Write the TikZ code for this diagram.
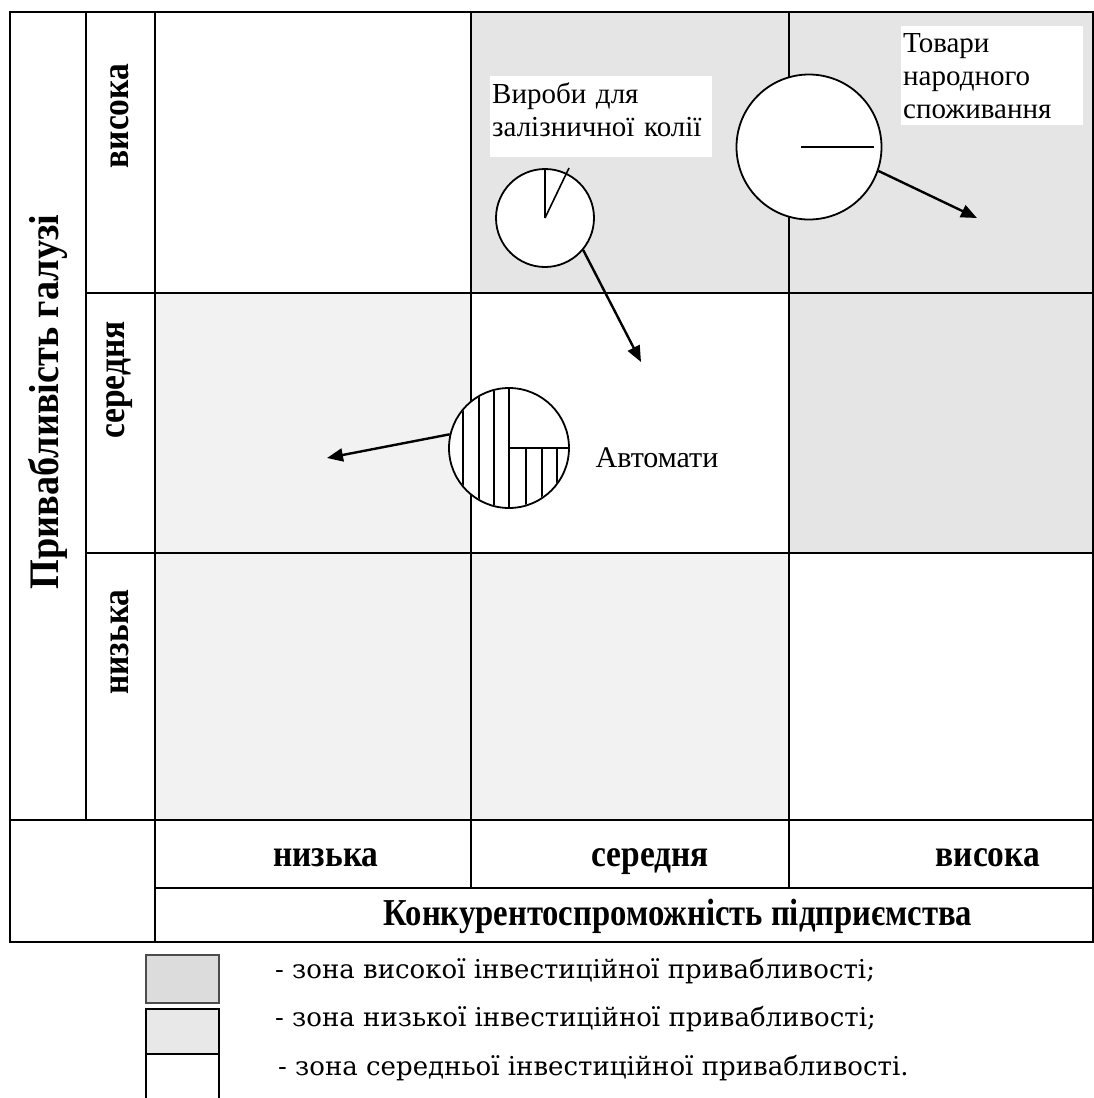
\documentclass[tikz,border=0pt]{standalone}
\usepackage{fontspec}
\setmainfont{Liberation Serif}
\newfontfamily\keyfont{DejaVu Serif}
\usetikzlibrary{arrows.meta,positioning}

\definecolor{hizone}{HTML}{E5E5E5}
\definecolor{lozone}{HTML}{F2F2F2}
\definecolor{hikey}{HTML}{DCDCDC}
\definecolor{lokey}{HTML}{E8E8E8}

\newcommand{\narrow}[1]{\scalebox{0.88}[1]{#1}}

\begin{document}
\begin{tikzpicture}[x=1pt, y=-1pt,
    frame/.style={line width=2pt, black},
    axlbl/.style={font=\fontsize{38}{44}\selectfont\bfseries, inner sep=0pt},
    rowlbl/.style={axlbl, rotate=90},
    pie/.style={circle, draw, line width=1.8pt, fill=white, inner sep=0pt, minimum size=#1},
    note/.style={fill=white, align=left, font=\fontsize{29}{33}\selectfont, inner xsep=2pt, inner ysep=7pt, anchor=north west, text width=#1},
    arr/.style={-{Triangle[length=16pt, width=13pt]}, line width=2.4pt},
    keybox/.style={draw, line width=1.6pt, minimum width=73pt, minimum height=#1, inner sep=0pt, anchor=north west},
    keytxt/.style={font=\keyfont\fontsize{26}{30}\selectfont, anchor=west, inner sep=0pt}
]
\useasboundingbox (0,0) rectangle (1094,1098);

% Zones
\fill[hizone] (471,12) rectangle (1093,293);
\fill[hizone] (789,293) rectangle (1093,553);
\fill[lozone] (155,293) rectangle (471,553);
\fill[lozone] (155,553) rectangle (789,820);

% Table lines
\draw[frame] (10,12) rectangle (1093,942);
\draw[frame] (86,12) -- (86,820);
\draw[frame] (155,12) -- (155,942);
\draw[frame] (471,12) -- (471,888);
\draw[frame] (789,12) -- (789,888);
\draw[frame] (86,293) -- (1093,293);
\draw[frame] (86,553) -- (1093,553);
\draw[frame] (10,820) -- (1093,820);
\draw[frame] (155,888) -- (1093,888);

% Axis labels
\node[rowlbl, font=\fontsize{42}{48}\selectfont\bfseries] (attr) at (48,402) {\scalebox{0.91}[1]{Привабливість галузі}};
\node[rowlbl] (rhi) at (120,116) {\narrow{висока}};
\node[rowlbl] (rmid) at (120,380) {\narrow{середня}};
\node[rowlbl] (rlo) at (120,642) {\narrow{низька}};
\node[axlbl, anchor=base] (clo) at (326,866) {\narrow{низька}};
\node[axlbl, anchor=base] (cmid) at (650,866) {\narrow{середня}};
\node[axlbl, anchor=base] (chi) at (988,866) {\narrow{висока}};
\node[axlbl, anchor=base] (comp) at (678,925) {\scalebox{0.86}[1]{Конкурентоспроможність підприємства}};

% Business units
\node[pie=98pt] (rail) at (545,218) {};
\draw[line width=1.6pt] (rail.center) -- (rail.north);
\draw[line width=1.6pt] (rail.center) -- (569,168);

\node[pie=145pt] (goods) at (809,147) {};
\draw[line width=1.6pt] (801,147) -- (874,147);

\node[pie=120pt] (auto) at (509,448) {};
\begin{scope}
  \clip (509,448) circle (59pt);
  \foreach \xx in {463,479,494}
    \draw[line width=1.6pt] (\xx,380) -- (\xx,520);
  \foreach \xx in {526,541.7,556.7}
    \draw[line width=1.6pt] (\xx,448) -- (\xx,520);
\end{scope}
\draw[line width=1.6pt] (auto.north) -- (auto.south);
\draw[line width=1.6pt] (auto.center) -- (auto.east);

% Unit names
\node[note=218pt] (railtxt) at (490,76) {Вироби для\\залізничної колії\\[-20pt]\mbox{}};
\node[note=178pt] (goodstxt) at (901,26) {Товари\\народного\\споживання};
\node[font=\fontsize{30}{33}\selectfont, inner sep=0pt] (autotxt) at (657,458) {Автомати};

% Movement
\coordinate (railend) at (641,362);
\coordinate (goodsend) at (977,218);
\coordinate (autoend) at (327,458);
\draw[arr] (rail.-40) -- (railend);
\draw[arr] (goods.-19) -- (goodsend);
\draw[arr] (auto.167) -- (autoend);

% Legend
\node[keybox=48pt, fill=hikey, draw=black!70] (khi) at (145,954) {};
\node[keybox=45pt, fill=lokey] (klo) at (145,1008) {};
\node[keybox=50pt, fill=white] (kmid) at (145,1053) {};
\node[keytxt] (ktxthi) at (275,971) {- зона високої інвестиційної привабливості;};
\node[keytxt] (ktxtlo) at (275,1019) {- зона низької інвестиційної привабливості;};
\node[keytxt] (ktxtmid) at (278,1068) {- зона середньої інвестиційної привабливості.};
\end{tikzpicture}
\end{document}
